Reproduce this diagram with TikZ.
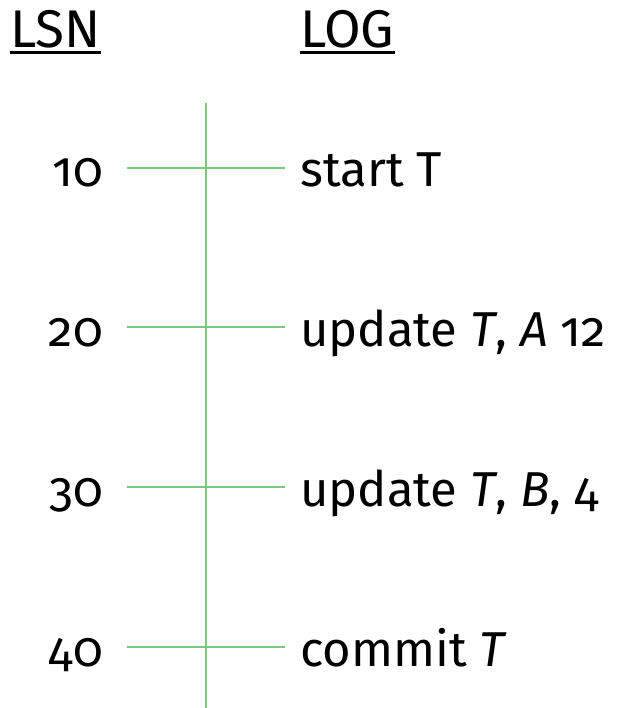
\documentclass[tikz,border=0pt]{standalone}
\usepackage{fontspec}
\setmainfont[Numbers=OldStyle]{Fira Sans}
\definecolor{linegreen}{HTML}{7CC87C}
\begin{document}
\begin{tikzpicture}[x=1pt,y=-1pt,
  conn/.style={draw=linegreen, line width=1.3pt},
  uline/.style={draw=black, line width=3pt},
  lsn/.style={anchor=base east, inner sep=0pt, font=\fontsize{49}{58}\selectfont},
  logtxt/.style={anchor=base west, inner sep=0pt, font=\fontsize{49}{58}\selectfont},
  head/.style={anchor=base west, inner sep=0pt, font=\fontsize{53}{60}\selectfont}]
\useasboundingbox (0,0) rectangle (619,708);
\node[head] (hlsn) at (10,48) {LSN};
\node[head] (hlog) at (300,48) {LOG};
\draw[uline] ([yshift=-4.5pt]hlsn.base west) -- ([yshift=-4.5pt]hlsn.base east);
\draw[uline] ([yshift=-4.5pt]hlog.base west) -- ([yshift=-4.5pt]hlog.base east);
\coordinate (top) at (206,103);
\coordinate (bot) at (206,708);
\draw[conn] (top) -- (bot);
\foreach \i/\y/\n/\t in {1/168/10/{start T},2/327/20/{update \textit{T}, \textit{A} 12},3/487/30/{update \textit{T}, \textit{B}, 4},4/647/40/{commit \textit{T}}}{
  \coordinate (l\i) at (127,\y);
  \coordinate (r\i) at (285,\y);
  \node[lsn] (n\i) at (103,\y+19) {\n};
  \node[logtxt] (t\i) at (300,\y+19) {\t};
  \draw[conn] (l\i) -- (r\i);
}
\end{tikzpicture}
\end{document}
